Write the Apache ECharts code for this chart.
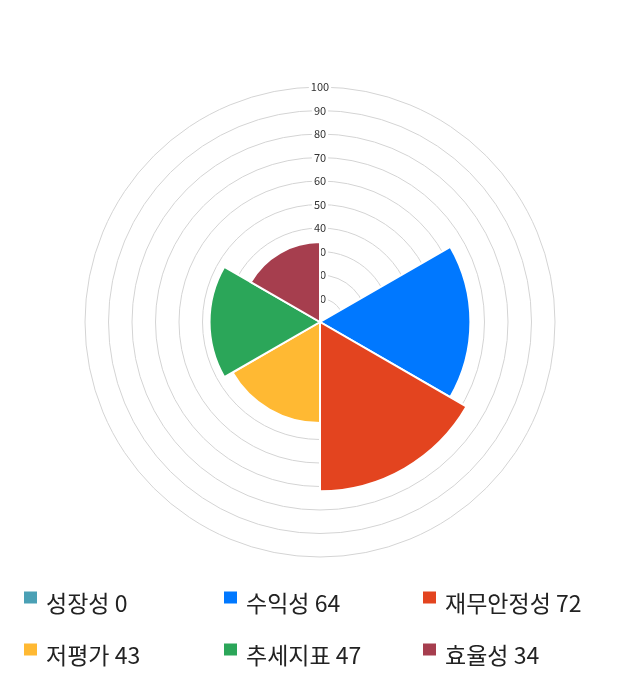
<!DOCTYPE html>
<html><head><meta charset="utf-8">
<script src="https://cdn.jsdelivr.net/npm/echarts@6/dist/echarts.min.js"></script>
<style>html,body{margin:0;padding:0;background:#fff}#c{width:640px;height:700px}</style>
</head><body><div id="c"></div>
<script>
var categories = ['성장성','수익성','재무안정성','저평가','추세지표','효율성'];
var values = [0, 64, 72, 43, 47, 34];
var colors = ['#4AA0B5','#0078FF','#E3441F','#FFB933','#2BA659','#A63E4E'];
var radiusTicks = [0,10,20,30,40,50,60,70,80,90,100];

var chart = echarts.init(document.getElementById('c'));
var series = categories.map(function(name, i){
  return {
    type:'bar', coordinateSystem:'polar', name:name, stack:'s', z:10, zlevel:1,
    barWidth:'100%',
    data: categories.map(function(_, j){ return j===i ? values[i] : '-'; }),
    itemStyle:{color:colors[i], borderColor:'#fff', borderWidth:2},
    emphasis:{disabled:true}, animation:false
  };
});
var legendLeft = [22, 222, 421];
var legendTop = [580, 632];
var legends = categories.map(function(name, i){
  return {
    orient:'horizontal', left:legendLeft[i%3], top:legendTop[Math.floor(i/3)], padding:0,
    itemWidth:15, itemHeight:14, icon:'rect', data:[name],
    formatter:function(n){ return '{t|' + n + ' ' + values[categories.indexOf(n)] + '}'; },
    textStyle:{rich:{t:{fontSize:23, lineHeight:22, color:'#222', fontFamily:'Noto Sans CJK KR', padding:[12,0,0,3]}}},
    selectedMode:false
  };
});
chart.setOption({
  animation:false,
  polar:{center:[320,322], radius:235},
  angleAxis:{type:'category', data:categories, startAngle:90, clockwise:true,
    axisLine:{show:false}, axisTick:{show:false}, axisLabel:{show:false}, splitLine:{show:false}},
  radiusAxis:{type:'value', min:radiusTicks[0], max:radiusTicks[radiusTicks.length-1], interval:10, z:1, zlevel:0,
    axisLine:{show:false}, axisTick:{show:false},
    splitLine:{show:true, lineStyle:{color:'#d4d4d4', width:1}},
    axisLabel:{show:true, fontSize:11, color:'#333', align:'center', verticalAlign:'middle',
      margin:0, backgroundColor:'#fff', padding:[0,2], fontFamily:'Noto Sans CJK KR',
      formatter:function(v){ return v===0 ? '' : String(v); }}},
  legend:legends,
  series:series
});
</script></body></html>
